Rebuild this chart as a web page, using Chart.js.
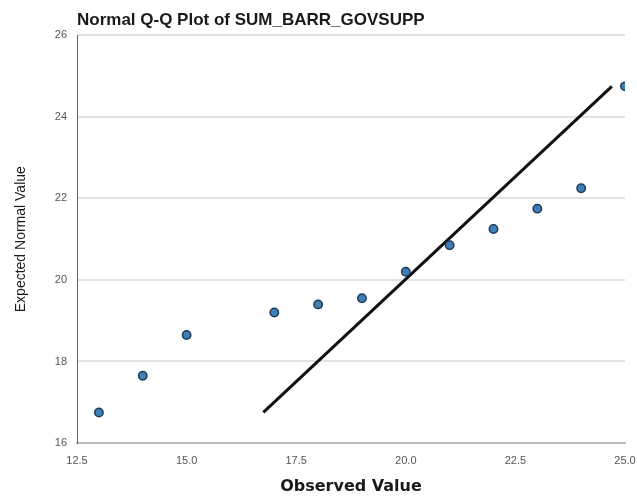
<!DOCTYPE html>
<html>
<head>
<meta charset="utf-8">
<script src="https://cdn.jsdelivr.net/npm/chart.js@4"></script>
<style>
    html, body { margin: 0; padding: 0; background: #ffffff; }
    #chart-wrap { width: 637px; height: 497px; }
</style>
</head>
<body>
<div id="chart-wrap"><canvas id="qq-chart" width="637" height="497"></canvas></div>
<script>
const observedValues = [13, 14, 15, 17, 18, 19, 20, 21, 22, 23, 24, 25];
const expectedValues = [16.75, 17.65, 18.65, 19.2, 19.4, 19.55, 20.2, 20.85, 21.25, 21.75, 22.25, 24.75];

// Reference line y = x
const refLineX = [16.75, 24.7];
const refLineY = [16.75, 24.75];

const xTicks = [12.5, 15.0, 17.5, 20.0, 22.5, 25.0];
const yTicks = [16, 18, 20, 22, 24, 26];

const fontFamily = 'Arial, "Liberation Sans", sans-serif';

document.addEventListener('DOMContentLoaded', () => {
    const ctx = document.querySelector('canvas#qq-chart').getContext('2d');

    const points = observedValues.map((x, i) => ({ x: x, y: expectedValues[i] }));
    const line = refLineX.map((x, i) => ({ x: x, y: refLineY[i] }));

    new Chart(ctx, {
        type: 'scatter',
        data: {
            datasets: [
                {
                    label: 'Reference',
                    data: line,
                    showLine: true,
                    borderColor: '#111111',
                    borderWidth: 3,
                    pointRadius: 0,
                    order: 2
                },
                {
                    label: 'Observed',
                    data: points,
                    backgroundColor: '#3f7fb5',
                    borderColor: '#1d3a57',
                    borderWidth: 1.5,
                    pointRadius: 4.2,
                    order: 1
                }
            ]
        },
        options: {
            responsive: false,
            animation: false,
            devicePixelRatio: 1,
            layout: {
                padding: { left: 0, right: 0, top: 0, bottom: 0 }
            },
            plugins: {
                legend: { display: false },
                tooltip: { enabled: false },
                title: {
                    display: true,
                    text: 'Normal Q-Q Plot of SUM_BARR_GOVSUPP',
                    align: 'start',
                    fullSize: false,
                    color: '#1a1a1a',
                    font: { family: fontFamily, size: 17, weight: 'bold' },
                    padding: { top: 10, bottom: 5 }
                }
            },
            scales: {
                x: {
                    type: 'linear',
                    min: 12.5,
                    max: 25,
                    afterBuildTicks: (scale) => {
                        scale.ticks = xTicks.map(v => ({ value: v }));
                    },
                    afterFit: (scale) => {
                        scale.height = 54;
                        scale.paddingRight = 12;
                    },
                    grid: {
                        color: 'rgba(0,0,0,0)',
                        drawTicks: false
                    },
                    border: {
                        color: '#bdbdbd',
                        width: 2
                    },
                    ticks: {
                        padding: 11,
                        color: '#555555',
                        maxRotation: 0,
                        font: { family: fontFamily, size: 11 },
                        callback: (value) => Number(value).toFixed(1)
                    },
                    title: {
                        display: true,
                        text: 'Observed Value',
                        color: '#1a1a1a',
                        font: { family: '"DejaVu Sans", sans-serif', size: 16, weight: 'bold' },
                        padding: { top: 0, bottom: 1 }
                    }
                },
                y: {
                    type: 'linear',
                    min: 16,
                    max: 26,
                    afterBuildTicks: (scale) => {
                        scale.ticks = yTicks.map(v => ({ value: v }));
                    },
                    afterFit: (scale) => {
                        scale.width = 77;
                    },
                    grid: {
                        color: '#e2e2e2',
                        lineWidth: 2,
                        drawTicks: false
                    },
                    border: {
                        color: '#666666',
                        width: 1
                    },
                    ticks: {
                        padding: 10,
                        color: '#555555',
                        font: { family: fontFamily, size: 11 }
                    },
                    title: {
                        display: true,
                        text: 'Expected Normal Value',
                        color: '#1a1a1a',
                        font: { family: fontFamily, size: 14 },
                        padding: { top: 13, bottom: 0 }
                    }
                }
            }
        }
    });
});
</script>
</body>
</html>
